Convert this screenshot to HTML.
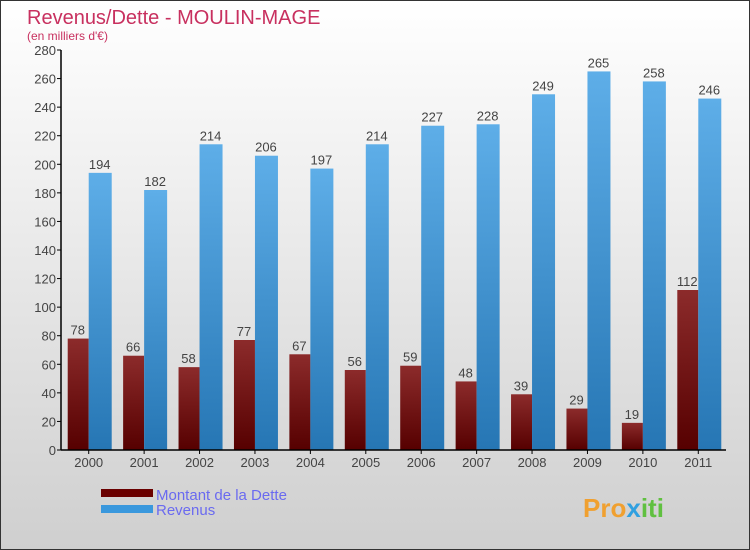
<!DOCTYPE html>
<html><head><meta charset="utf-8"><style>
body{margin:0}
#c{width:748px;height:548px;border:1px solid #333;background:linear-gradient(#ffffff,#cfcfcf);position:relative;font-family:"Liberation Sans",sans-serif;overflow:hidden}
</style></head><body>
<div id="c">
<svg id="s" width="748" height="548" xmlns="http://www.w3.org/2000/svg">
<defs>
<linearGradient id="gd" x1="0" y1="0" x2="0" y2="1"><stop offset="0" stop-color="#8c2b2b"/><stop offset="1" stop-color="#560000"/></linearGradient>
<linearGradient id="gr" x1="0" y1="0" x2="0" y2="1"><stop offset="0" stop-color="#5eaee8"/><stop offset="1" stop-color="#2676b4"/></linearGradient>
</defs>
<text x="26" y="23" font-size="20" fill="#c8305f">Revenus/Dette - MOULIN-MAGE</text>
<text x="26" y="39" font-size="12" fill="#c8305f">(en milliers d'€)</text>
<g id="g"></g>
<rect x="100" y="488" width="52" height="8" fill="#6a0000"/>
<rect x="100" y="504" width="52" height="8" fill="#3a98dd"/>
<text x="155" y="499" font-size="15" fill="#6a6af0">Montant de la Dette</text>
<text x="155" y="514" font-size="15" fill="#6a6af0">Revenus</text>
<text x="582" y="516" font-size="26" font-weight="bold" fill="#f0a030">Pro<tspan fill="#30a0e0">x</tspan><tspan fill="#60c040">iti</tspan></text>
</svg>
</div>
<script>
const years=["2000","2001","2002","2003","2004","2005","2006","2007","2008","2009","2010","2011"];
const dette=[78,66,58,77,67,56,59,48,39,29,19,112];
const revenus=[194,182,214,206,197,214,227,228,249,265,258,246];
const ticks=[0,20,40,60,80,100,120,140,160,180,200,220,240,260,280];
const NS="http://www.w3.org/2000/svg";
const g=document.getElementById('g');
const x0=60,x1=725,y0=449,yTop=49,maxV=280;
const yS=v=>y0-(v/maxV)*(y0-yTop);
const step=(x1-x0)/years.length;
function mk(t,a){const e=document.createElementNS(NS,t);for(const k in a)e.setAttribute(k,a[k]);g.appendChild(e);return e;}
ticks.forEach(t=>{
 const l=mk('line',{x1:x0-4,x2:x0,y1:yS(t),y2:yS(t),stroke:'#000'});
 
 
 const tx=mk('text',{x:x0-5,y:yS(t)+5,'font-size':13,'text-anchor':'end',fill:'#444'});
 tx.textContent=t;
 
 
});
years.forEach((yr,i)=>{
 const c=x0+step*(i+0.5);
 const bd=mk('rect',{x:c-21,y:yS(dette[i]),width:21,height:y0-yS(dette[i]),fill:'url(#gd)'});
 
 
 const br=mk('rect',{x:c,y:yS(revenus[i]),width:23,height:y0-yS(revenus[i]),fill:'url(#gr)'});
 
 
 const ld=mk('text',{x:c-11,y:yS(dette[i])-4,'font-size':13,'text-anchor':'middle',fill:'#444'});
 ld.textContent=dette[i];
 
 
 const lr=mk('text',{x:c+11,y:yS(revenus[i])-4,'font-size':13,'text-anchor':'middle',fill:'#444'});
 lr.textContent=revenus[i];
 
 
 const tk=mk('line',{x1:c,x2:c,y1:y0,y2:y0+4,stroke:'#000'});
 
 
 const xl=mk('text',{x:c,y:y0+17,'font-size':13,'text-anchor':'middle',fill:'#444'});
 xl.textContent=yr;
 
 
});
const ya=mk('line',{x1:x0,x2:x0,y1:yTop,y2:y0,stroke:'#000','stroke-width':1.5});


const xa=mk('line',{x1:x0,x2:x1,y1:y0,y2:y0,stroke:'#000','stroke-width':1.5});


</script>
</body></html>
